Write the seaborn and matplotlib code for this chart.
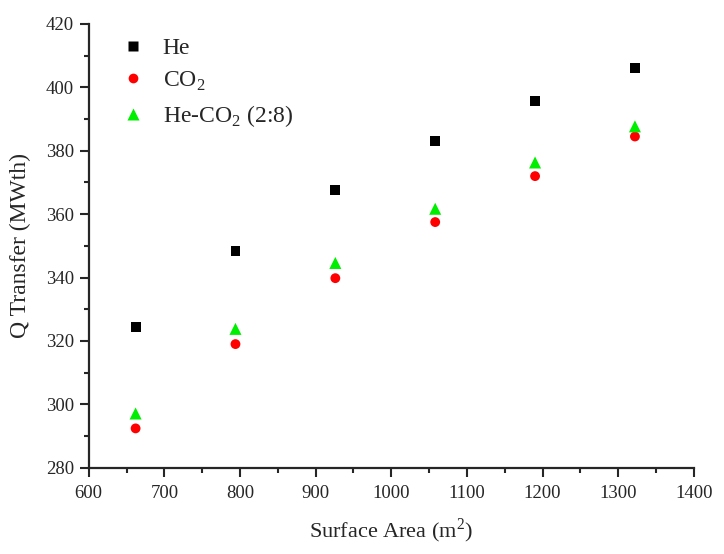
import numpy as np
import pandas as pd
import seaborn as sns
import matplotlib.pyplot as plt
from matplotlib.ticker import MultipleLocator

# data
area = [662, 794, 926, 1058, 1190, 1322]
q_he = [324.4, 348.4, 367.5, 383.0, 395.6, 406.0]
q_co2 = [292.4, 319.0, 339.8, 357.5, 372.0, 384.5]
q_mix = [297.1, 323.8, 344.6, 361.7, 376.3, 387.7]
labels = ['He', 'CO$_2$', 'He-CO$_2$ (2:8)']

df = pd.DataFrame({
    'area': area * 3,
    'q': q_he + q_co2 + q_mix,
    'gas': [labels[0]] * 6 + [labels[1]] * 6 + [labels[2]] * 6,
})

sns.set_style('ticks')
plt.rcParams['font.family'] = ['Liberation Serif', 'DejaVu Serif']
plt.rcParams['mathtext.fontset'] = 'custom'
plt.rcParams['mathtext.rm'] = 'Liberation Serif'

fig = plt.figure(figsize=(7.24, 5.54), dpi=100)
ax = fig.add_axes([0.1225, 0.1558, 0.836, 0.8009])

colors = {labels[0]: 'black', labels[1]: 'red', labels[2]: '#00ee00'}
markers = {labels[0]: 's', labels[1]: 'o', labels[2]: '^'}
sizes = {labels[0]: 50, labels[1]: 50, labels[2]: 75}

sns.scatterplot(data=df, x='area', y='q', hue='gas', style='gas', size='gas',
                palette=colors, markers=markers, sizes=sizes,
                edgecolor='none', ax=ax)

ax.set_xlim(600, 1400)
ax.set_ylim(280, 420)
ax.xaxis.set_major_locator(MultipleLocator(100))
ax.xaxis.set_minor_locator(MultipleLocator(50))
ax.yaxis.set_major_locator(MultipleLocator(20))
ax.yaxis.set_minor_locator(MultipleLocator(10))
ax.tick_params(which='major', length=6.5, width=1.5, labelsize=13.5)
ax.tick_params(axis='x', which='major', pad=6)
ax.tick_params(axis='y', which='major', pad=4)
ax.tick_params(which='minor', length=3.5, width=1.5)
sns.despine(ax=ax)
for s in ['left', 'bottom']:
    ax.spines[s].set_linewidth(1.6)

ax.set_xlabel('Surface Area (m$^2$)', fontsize=16, labelpad=10)
ax.set_ylabel('Q Transfer (MWth)', fontsize=17, labelpad=11)

leg = ax.legend(loc='upper left', frameon=False, fontsize=17, title=None,
                bbox_to_anchor=(0.053, 0.97), borderaxespad=0, borderpad=0,
                handlelength=1.0, handletextpad=0.77, labelspacing=0.45)
for h, ms in zip(leg.legend_handles, [7, 7, 9]):
    h.set_markersize(ms)

fig.savefig('out.png', dpi=100)
